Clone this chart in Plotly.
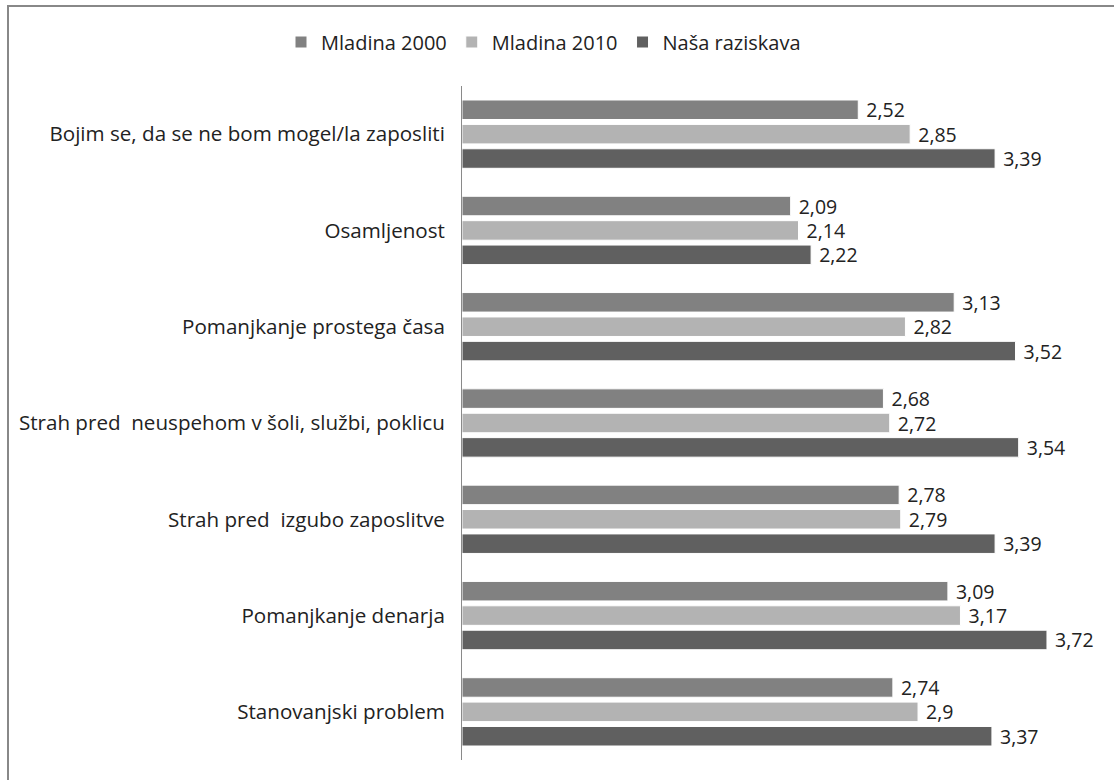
import plotly.graph_objects as go

categories = [
    "Bojim se, da se ne bom mogel/la zaposliti",
    "Osamljenost",
    "Pomanjkanje prostega časa",
    "Strah pred  neuspehom v šoli, službi, poklicu",
    "Strah pred  izgubo zaposlitve",
    "Pomanjkanje denarja",
    "Stanovanjski problem",
]
series_names = ["Mladina 2000", "Mladina 2010", "Naša raziskava"]
mladina_2000 = [2.52, 2.09, 3.13, 2.68, 2.78, 3.09, 2.74]
mladina_2010 = [2.85, 2.14, 2.82, 2.72, 2.79, 3.17, 2.90]
nasa_raziskava = [3.39, 2.22, 3.52, 3.54, 3.39, 3.72, 3.37]
colors = ["#818181", "#b3b3b3", "#606060"]

FONT = "Open Sans"
W, H = 1114, 780
L, R, T, B = 462, 23, 86, 20
pw, ph = W - L - R, H - T - B

fig = go.Figure()
for name, vals, col in zip(series_names, [mladina_2000, mladina_2010, nasa_raziskava], colors):
    fig.add_trace(go.Bar(
        y=categories, x=vals, name=name, orientation="h",
        marker=dict(color=col, line=dict(color="white", width=1)),
        text=[("%g" % v).replace(".", ",") for v in vals],
        texttemplate=" %{text}",
        textposition="outside", cliponaxis=False, constraintext="none",
        textfont=dict(family=FONT, size=19.5, color="#222222"),
    ))

def px_x(p):
    return (p - L) / pw

def px_y(p):
    return (H - B - p) / ph

fig.add_shape(type="rect", xref="paper", yref="paper",
              x0=px_x(8), x1=px_x(1125), y0=px_y(6), y1=px_y(795),
              line=dict(color="#888888", width=2), fillcolor="rgba(0,0,0,0)")

fig.update_layout(
    width=W, height=H,
    margin=dict(l=L, r=R, t=T, b=B, autoexpand=False),
    paper_bgcolor="white", plot_bgcolor="white",
    barmode="group", bargap=0.24, bargroupgap=0.2,
    font=dict(family=FONT, size=20.6, color="#222222"),
    showlegend=True,
    legend=dict(orientation="h", xref="container", yref="container",
                x=281 / W, y=1 - 42 / H, xanchor="left", yanchor="middle",
                font=dict(family=FONT, size=20, color="#222222"),
                itemwidth=30, traceorder="normal", tracegroupgap=0),
    xaxis=dict(range=[0, 4], visible=False, showgrid=False, zeroline=False),
    yaxis=dict(autorange="reversed", showline=True, linecolor="#8a8a8a", linewidth=1,
               showgrid=False, ticks="", ticklabelstandoff=12,
               tickfont=dict(family=FONT, size=20.6, color="#222222")),
)

fig.write_html("out.html", config={"displayModeBar": False},
               post_script="document.body.style.margin='0';")
